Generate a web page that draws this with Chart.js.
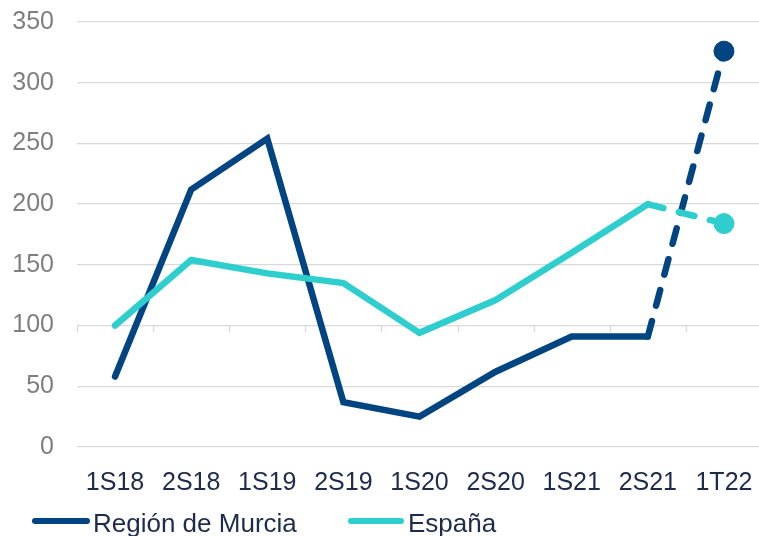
<!DOCTYPE html>
<html>
<head>
<meta charset="utf-8">
<script src="https://cdn.jsdelivr.net/npm/chart.js@4/dist/chart.umd.min.js"></script>
<style>
  html, body { margin: 0; padding: 0; background: #fff; overflow: hidden; width: 759px; height: 536px; }
  #wrap { position: relative; width: 759px; height: 536px; overflow: hidden; }
  canvas { position: absolute; left: 0; top: 0; }
  .lg-line { position: absolute; height: 6px; border-radius: 3px; }
  .lg-text { position: absolute; font-family: "Liberation Sans", Arial, sans-serif; font-size: 26px; line-height: 26px; color: #1d2b4d; white-space: nowrap; }
</style>
</head>
<body>
<div id="wrap">
  <canvas id="c" width="762" height="536" style="width:762px;height:536px"></canvas>
  <div class="lg-line" id="l1" style="left:32px; top:518px; width:58px;"></div>
  <div class="lg-text" id="t1" style="left:93px; top:510px;"></div>
  <div class="lg-line" id="l2" style="left:348px; top:518px; width:56px;"></div>
  <div class="lg-text" id="t2" style="left:408px; top:510px;"></div>
</div>
<script>
const categories = ["1S18", "2S18", "1S19", "2S19", "1S20", "2S20", "1S21", "2S21", "1T22"];
const seriesNames = ["Región de Murcia", "España"];
const murcia = [58, 212, 254, 37, 25, 62, 91, 91, 326];
const espana = [100, 154, 143, 135, 94, 121, 160, 200, 184];
const yTicks = [0, 50, 100, 150, 200, 250, 300, 350];
const tickRowValue = 100;
const colors = ["#004481", "#2ecece"];

document.getElementById('l1').style.background = colors[0];
document.getElementById('l2').style.background = colors[1];
document.getElementById('t1').textContent = seriesNames[0];
document.getElementById('t2').textContent = seriesNames[1];

const lastIdx = categories.length - 1;
function makeDataset(label, data, color, order) {
  return {
    label, data, order,
    borderColor: color,
    backgroundColor: color,
    borderWidth: 6.5,
    borderCapStyle: 'round',
    borderJoinStyle: 'miter',
    tension: 0,
    pointRadius: ctx => ctx.dataIndex === lastIdx ? 10 : 0,
    pointHoverRadius: ctx => ctx.dataIndex === lastIdx ? 10 : 0,
    pointBorderWidth: 1,
    pointBackgroundColor: color,
    pointBorderColor: color,
    segment: {
      borderDash: ctx => ctx.p1DataIndex === lastIdx ? [16, 16] : undefined
    }
  };
}

// small category-boundary tick marks drawn below the 100 gridline (as in the source chart)
const boundaryTicks = {
  id: 'boundaryTicks',
  beforeDatasetsDraw(chart) {
    const xs = chart.scales.x, ys = chart.scales.y, ctx = chart.ctx;
    const y0 = Math.round(ys.getPixelForValue(tickRowValue));
    ctx.save();
    ctx.strokeStyle = '#d9d9d9';
    ctx.lineWidth = 1.3;
    for (let i = 0; i <= categories.length; i++) {
      const x = Math.round(xs.getPixelForValue(i - 0.5)) + 0.5;
      ctx.beginPath();
      ctx.moveTo(x, y0);
      ctx.lineTo(x, y0 + 6);
      ctx.stroke();
    }
    ctx.restore();
  }
};

const canvas = document.getElementById('c');
const targetRight = 762;

function build(w) {
  canvas.width = w;
  canvas.height = 536;
  canvas.style.width = w + 'px';
  canvas.style.height = '536px';
  return new Chart(canvas, {
    type: 'line',
    data: {
      labels: categories,
      datasets: [
        makeDataset(seriesNames[0], murcia, colors[0], 1),
        makeDataset(seriesNames[1], espana, colors[1], 0)
      ]
    },
    plugins: [boundaryTicks],
    options: {
      responsive: false,
      animation: false,
      devicePixelRatio: 1,
      layout: { padding: { left: 12, right: 0, top: 22, bottom: 44 } },
      plugins: { legend: { display: false }, tooltip: { enabled: false } },
      scales: {
        x: {
          type: 'category',
          offset: true,
          grid: { display: false },
          border: { display: false },
          ticks: {
            color: '#1d2b4d',
            padding: 13,
            maxRotation: 0,
            autoSkip: false,
            font: { family: '"Liberation Sans", Arial, sans-serif', size: 25 }
          },
          afterFit: s => { s.height = 45; s.paddingLeft = 0; s.paddingRight = 0; }
        },
        y: {
          min: 0, max: 350,
          afterBuildTicks: s => { s.ticks = yTicks.map(v => ({ value: v })); },
          grid: { color: '#d9d9d9', lineWidth: 1.3, drawTicks: false },
          border: { display: false },
          ticks: {
            color: '#7f7f7f',
            padding: 23,
            font: { family: '"Liberation Sans", Arial, sans-serif', size: 25 }
          },
          afterFit: s => { s.width = 65; s.paddingTop = 0; s.paddingBottom = 0; }
        }
      }
    }
  });
}

let chart = build(targetRight);
const lost = Math.round(targetRight - chart.chartArea.right);
if (lost > 0) {
  chart.destroy();
  chart = build(targetRight + lost);
}
</script>
</body>
</html>
